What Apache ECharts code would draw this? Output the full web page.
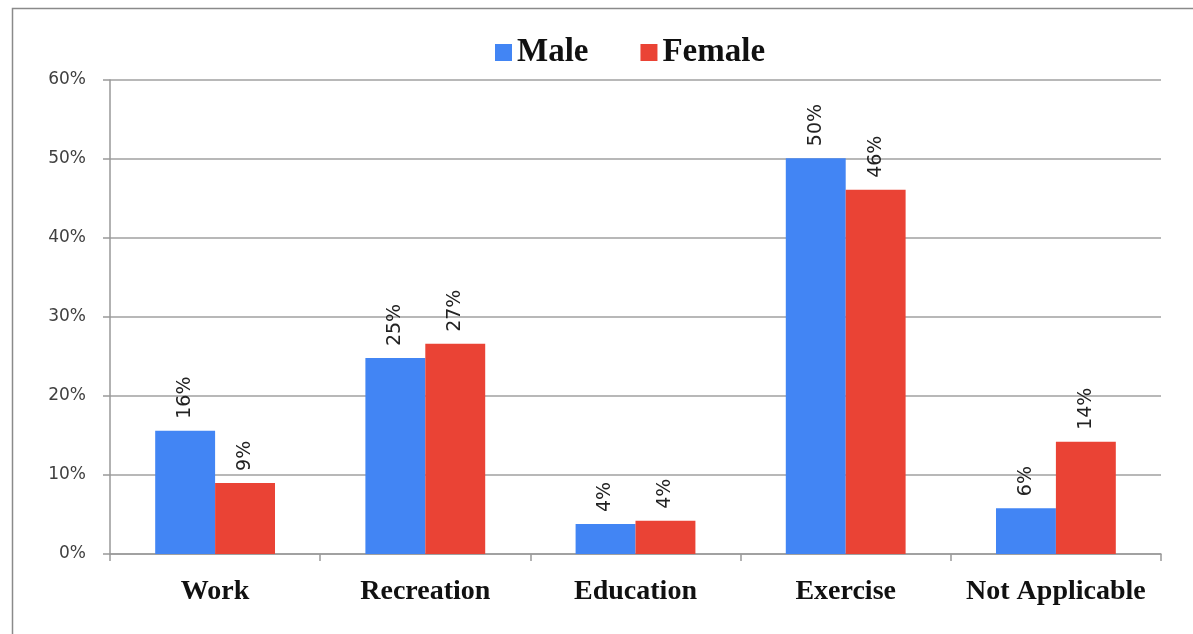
<!DOCTYPE html>
<html>
<head>
<meta charset="utf-8">
<script src="https://cdn.jsdelivr.net/npm/echarts@6/dist/echarts.min.js"></script>
<style>
  html, body { margin: 0; padding: 0; background: #fff; }
  #chart { width: 1193px; height: 634px; }
</style>
</head>
<body>
<div id="chart"></div>
<script>
// Purpose of activity, share of respondents by gender (%)
const categories = ['Work', 'Recreation', 'Education', 'Exercise', 'Not Applicable'];
const maleValues = [15.6, 24.8, 3.8, 50.1, 5.8];
const femaleValues = [9.0, 26.6, 4.2, 46.1, 14.2];
const seriesNames = ['Male', 'Female'];
const yTicks = [0, 10, 20, 30, 40, 50, 60];

const chart = echarts.init(document.getElementById('chart'), null, { renderer: 'canvas' });

const valueLabel = {
  show: true,
  position: 'top',
  rotate: 90,
  align: 'left',
  verticalAlign: 'middle',
  distance: 12,
  fontFamily: 'DejaVu Sans',
  fontSize: 19,
  color: '#222',
  formatter: p => Math.round(p.value) + '%'
};

chart.setOption({
  animation: false,
  backgroundColor: '#ffffff',
  graphic: [{
    type: 'rect',
    left: 10,
    top: 6,
    shape: { width: 1300, height: 700 },
    style: { fill: 'none', stroke: '#8a8a8a', lineWidth: 1.5 },
    silent: true
  }],
  legend: {
    data: seriesNames,
    left: 490,
    top: 31,
    itemWidth: 17,
    itemHeight: 17,
    itemGap: 52,
    icon: 'rect',
    textStyle: {
      fontFamily: 'Liberation Serif',
      fontWeight: 'bold',
      fontSize: 33,
      color: '#111'
    }
  },
  grid: { left: 110, right: 32, top: 80, bottom: 80, containLabel: false },
  xAxis: {
    type: 'category',
    data: categories,
    axisLine: { lineStyle: { color: '#999', width: 1.5 } },
    axisTick: { show: true, interval: 0, length: 7, lineStyle: { color: '#999', width: 1.5 } },
    axisLabel: {
      interval: 0,
      margin: 24,
      fontFamily: 'Liberation Serif',
      fontWeight: 'bold',
      fontSize: 28,
      color: '#111'
    },
    splitLine: { show: false }
  },
  yAxis: {
    type: 'value',
    min: yTicks[0],
    max: yTicks[yTicks.length - 1],
    interval: 10,
    axisLine: { show: true, lineStyle: { color: '#999', width: 1.5 } },
    axisTick: { show: true, length: 7, lineStyle: { color: '#999', width: 1.5 } },
    axisLabel: {
      margin: 24,
      fontFamily: 'DejaVu Sans',
      fontSize: 17,
      color: '#404040',
      formatter: v => v + '%'
    },
    splitLine: { show: true, lineStyle: { color: '#a0a0a0', width: 1.5 } }
  },
  series: [
    {
      name: seriesNames[0],
      type: 'bar',
      data: maleValues,
      barGap: '0%',
      barCategoryGap: '43%',
      itemStyle: { color: '#4285F4' },
      label: valueLabel
    },
    {
      name: seriesNames[1],
      type: 'bar',
      data: femaleValues,
      barGap: '0%',
      barCategoryGap: '43%',
      itemStyle: { color: '#EA4335' },
      label: valueLabel
    }
  ]
});
</script>
</body>
</html>
